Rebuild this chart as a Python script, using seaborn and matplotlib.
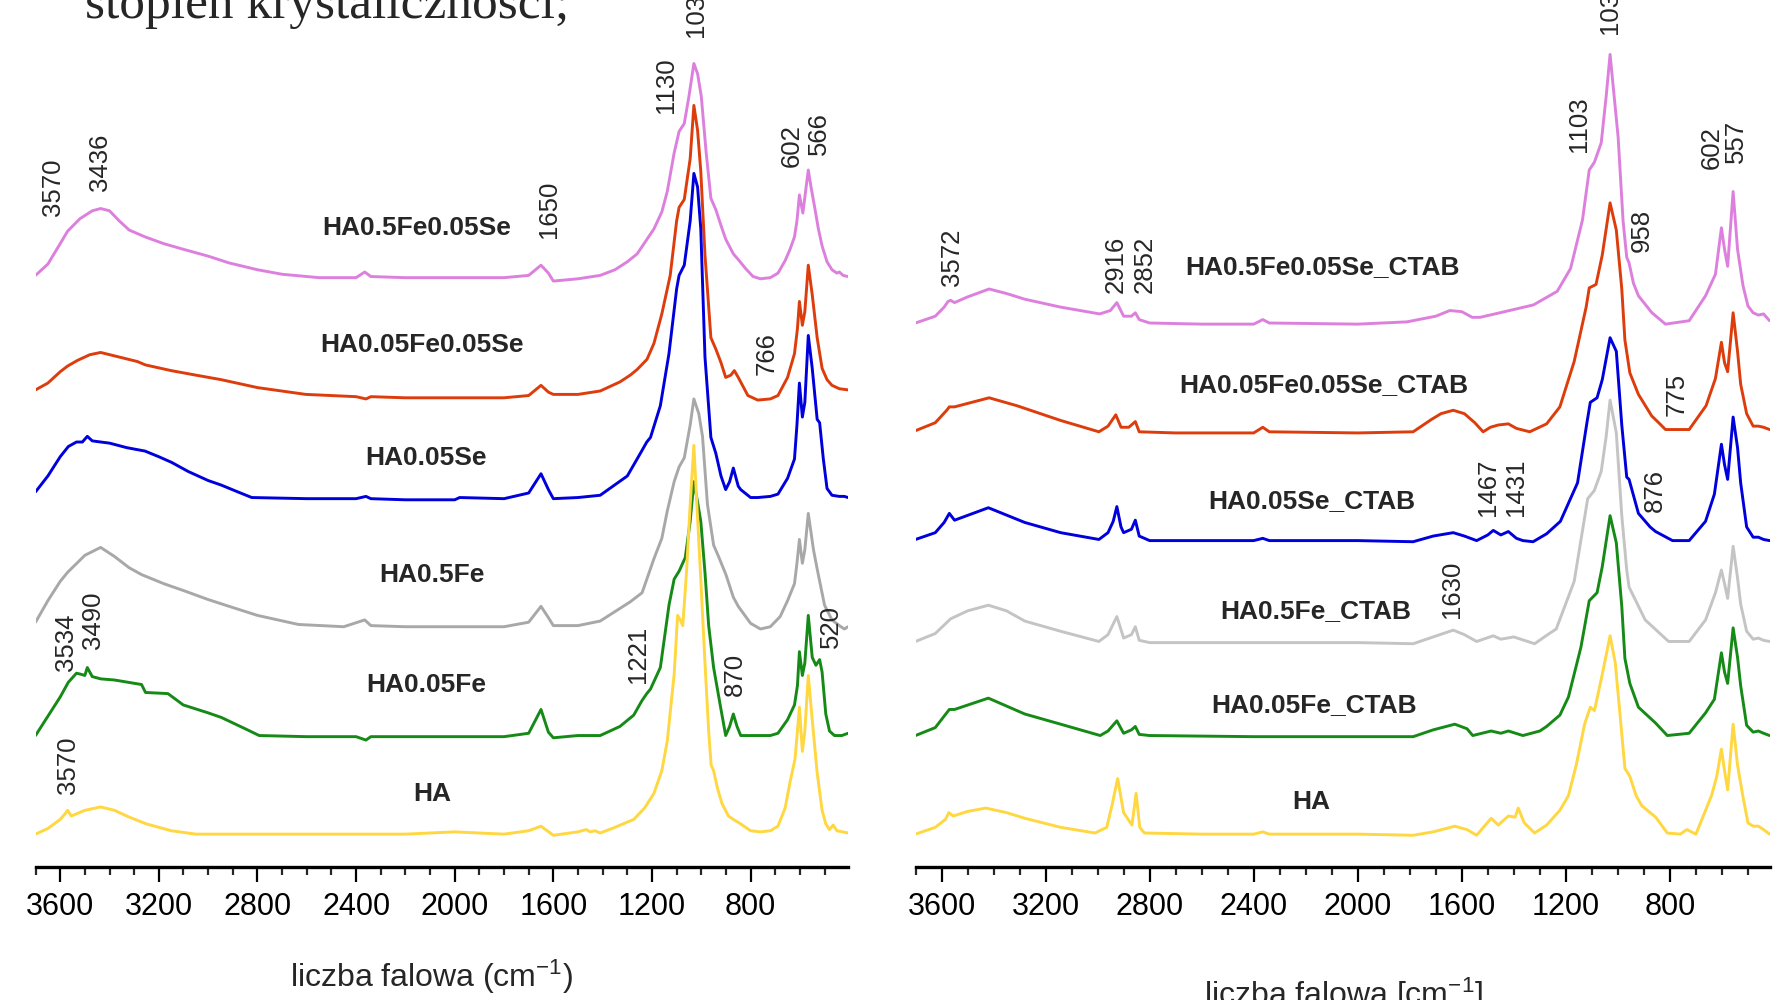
import matplotlib
matplotlib.use("Agg")
import pandas as pd
import matplotlib.pyplot as plt
from matplotlib.ticker import FixedLocator
import seaborn as sns

# ---------------- data: left panel (HA doped with Fe / Se) ----------------
# wavenumber [cm-1] and absorbance (a.u., stacked offset included)
wn_ha05fe005se = [3700, 3650, 3600, 3570, 3520, 3470, 3436, 3400, 3360, 3320, 3256, 3180, 3100, 3000, 2915, 2800,
                  2700, 2550, 2400, 2365, 2340, 2200, 2000, 1800, 1700, 1650, 1620, 1600, 1500, 1410, 1350, 1300,
                  1260, 1192, 1160, 1138, 1110, 1090, 1069, 1050, 1030, 1015, 1000, 980, 961, 941, 920, 901, 870,
                  850, 820, 790, 760, 720, 689, 660, 640, 622, 612, 602, 588, 566, 555, 540, 525, 510, 490, 470,
                  450, 440, 425, 405]
ab_ha05fe005se = [522, 532, 550, 561, 572, 579, 581, 579, 570, 562, 556, 550, 545, 539, 533, 527,
                  523, 520, 520, 525, 521, 520, 520, 520, 522, 531, 524, 517, 519, 522, 527, 534,
                  541, 563, 578, 596, 630, 649, 656, 680, 709, 700, 680, 630, 590, 580, 566, 554, 541,
                  536, 528, 521, 519, 520, 524, 535, 545, 556, 570, 593, 577, 615, 600, 582, 563, 548, 534, 527,
                  524, 525, 522, 521]

wn_ha005fe005se = [3700, 3650, 3600, 3570, 3530, 3480, 3436, 3380, 3287, 3254, 3150, 3050, 2947, 2800, 2604, 2400,
                   2360, 2340, 2200, 2000, 1800, 1700, 1650, 1620, 1600, 1500, 1410, 1330, 1288, 1260, 1220, 1192,
                   1160, 1126, 1100, 1090, 1069, 1045, 1030, 1015, 1002, 985, 961, 941, 920, 901, 880, 866, 850,
                   811, 771, 720, 689, 650, 622, 610, 602, 590, 580, 566, 550, 530, 510, 490, 470, 440, 405]
ab_ha005fe005se = [421, 427, 437, 442, 447, 452, 454, 451, 446, 443, 438, 434, 430, 423, 417, 415,
                   413, 415, 414, 414, 414, 416, 425, 419, 417, 417, 420, 428, 434, 439, 448, 462,
                   488, 522, 570, 582, 589, 625, 672, 650, 614, 540, 467, 457, 445, 432, 434, 438, 432,
                   416, 412, 413, 416, 432, 453, 475, 499, 478, 490, 531, 505, 467, 440, 430, 425, 422, 421]

wn_ha005se = [3700, 3650, 3600, 3567, 3534, 3510, 3490, 3470, 3436, 3400, 3330, 3256, 3200, 3148, 3081, 3000,
              2947, 2880, 2823, 2600, 2400, 2360, 2340, 2200, 2000, 1980, 1800, 1700, 1650, 1620, 1600, 1500,
              1410, 1300, 1247, 1221, 1206, 1166, 1131, 1100, 1090, 1069, 1045, 1030, 1015, 1002, 985, 961,
              941, 920, 901, 885, 870, 850, 840, 800, 771, 720, 689, 650, 622, 612, 602, 590, 580, 566, 550,
              530, 520, 505, 490, 470, 440, 420, 405]
ab_ha005se = [331, 345, 362, 371, 375, 375, 380, 376, 375, 374, 370, 367, 362, 357, 349, 341,
              337, 331, 326, 325, 325, 327, 325, 324, 324, 326, 325, 330, 347, 333, 325, 326,
              328, 345, 365, 375, 379, 407, 453, 510, 522, 531, 570, 612, 600, 563, 450, 379,
              365, 345, 333, 340, 352, 336, 333, 326, 326, 327, 329, 343, 360, 390, 427, 397, 410, 469, 440,
              395, 392, 360, 334, 328, 327, 327, 326]

wn_ha05fe = [3700, 3650, 3600, 3570, 3500, 3436, 3380, 3320, 3270, 3180, 3101, 3000, 2915, 2800, 2634, 2450,
             2365, 2340, 2200, 2000, 1800, 1700, 1650, 1620, 1600, 1500, 1410, 1288, 1240, 1192, 1160, 1138,
             1110, 1090, 1069, 1045, 1030, 1010, 995, 975, 950, 930, 900, 870, 850, 800, 760, 720, 680, 650,
             622, 612, 602, 590, 580, 566, 545, 530, 500, 470, 440, 420, 405]
ab_ha05fe = [216, 235, 252, 260, 275, 282, 274, 264, 258, 250, 244, 236, 230, 222, 214, 212,
             218, 213, 212, 212, 212, 216, 230, 220, 213, 213, 217, 234, 242, 272, 290, 314,
             340, 353, 361, 390, 413, 400, 380, 320, 284, 274, 258, 238, 230, 215, 210, 212, 221, 235,
             250, 268, 289, 268, 280, 312, 280, 263, 231, 218, 213, 210, 212]

wn_ha005fe = [3700, 3650, 3600, 3567, 3534, 3515, 3500, 3490, 3470, 3436, 3380, 3270, 3254, 3163, 3101, 3000,
              2947, 2850, 2793, 2600, 2400, 2360, 2340, 2200, 2000, 1800, 1700, 1650, 1620, 1600, 1500, 1410,
              1330, 1274, 1240, 1221, 1206, 1166, 1131, 1110, 1090, 1065, 1045, 1030, 1015, 1002, 985, 970,
              950, 920, 901, 885, 870, 855, 840, 800, 720, 689, 650, 622, 610, 602, 590, 580, 566, 550, 535,
              520, 510, 495, 480, 460, 430, 405]
ab_ha005fe = [116, 133, 150, 163, 171, 170, 169, 176, 168, 166, 165, 161, 154, 153, 143, 136,
              132, 122, 116, 115, 115, 112, 115, 115, 115, 115, 118, 139, 119, 114, 116, 116,
              124, 134, 147, 153, 157, 176, 231, 254, 261, 273, 305, 340, 322, 305, 260, 213,
              176, 139, 116, 124, 135, 124, 116, 116, 116, 118, 130, 143, 160, 190, 169, 180, 222, 185, 178,
              183, 172, 135, 120, 116, 116, 118]

wn_ha_l = [3700, 3650, 3600, 3580, 3570, 3555, 3500, 3436, 3380, 3320, 3250, 3150, 3050, 2800, 2400, 2200,
           2000, 1800, 1700, 1650, 1600, 1500, 1467, 1450, 1431, 1410, 1350, 1274, 1230, 1192, 1160, 1138,
           1110, 1096, 1085, 1075, 1060, 1045, 1030, 1018, 1002, 985, 970, 960, 950, 935, 916, 890, 870,
           840, 800, 760, 720, 689, 660, 640, 632, 620, 612, 602, 590, 580, 566, 550, 530, 510, 495, 480,
           465, 450, 405]
ab_ha_l = [29, 34, 42, 47, 50, 45, 50, 53, 50, 44, 38, 32, 29, 29, 29, 29,
           31, 29, 32, 36, 28, 31, 33, 31, 32, 30, 35, 42, 52, 65, 85, 111,
           170, 222, 218, 213, 260, 320, 372, 320, 254, 180, 120, 90, 85, 70, 56, 45, 42,
           38, 32, 31, 32, 36, 52, 75, 83, 95, 115, 141, 102, 120, 169, 130, 83, 50, 38, 33,
           37, 32, 30]

# ---------------- data: right panel (CTAB samples) ----------------
wn_ha05fe005se_ctab = [3700, 3624, 3590, 3575, 3565, 3550, 3500, 3417, 3350, 3280, 3142, 2992, 2951, 2926, 2900,
                       2870, 2855, 2840, 2800, 2600, 2400, 2365, 2340, 2000, 1811, 1700, 1646, 1600, 1560, 1530,
                       1454, 1324, 1233, 1182, 1136, 1110, 1090, 1064, 1045, 1030, 1010, 999, 980, 966, 957, 940,
                       921, 869, 817, 726, 663, 625, 602, 590, 578, 557, 540, 519, 500, 480, 460, 440, 417]
ab_ha05fe005se_ctab = [480, 486, 494, 499, 500, 498, 503, 510, 506, 501, 494, 488, 491, 498, 486,
                       486, 489, 483, 480, 479, 479, 483, 480, 479, 481, 486, 491, 490, 485, 485,
                       489, 496, 508, 528, 571, 615, 622, 639, 680, 717, 670, 644, 570, 538, 533, 515,
                       504, 489, 479, 482, 504, 523, 564, 545, 530, 596, 545, 513, 495, 489, 487, 488, 482]

wn_ha005fe005se_ctab = [3700, 3624, 3580, 3570, 3550, 3417, 3310, 3142, 2995, 2960, 2930, 2910, 2880, 2855, 2840,
                        2700, 2400, 2365, 2340, 2000, 1787, 1716, 1680, 1633, 1590, 1550, 1518, 1490, 1460, 1421,
                        1390, 1339, 1274, 1223, 1168, 1122, 1110, 1084, 1060, 1030, 1006, 985, 973, 954, 921, 870,
                        843, 817, 726, 661, 625, 602, 590, 578, 557, 540, 528, 505, 480, 460, 440, 417]
ab_ha005fe005se_ctab = [385, 392, 403, 406, 406, 414, 407, 394, 384, 389, 399, 388, 388, 393, 384,
                        383, 383, 388, 384, 383, 384, 395, 400, 403, 400, 392, 384, 388, 390, 391,
                        387, 384, 391, 406, 446, 494, 511, 514, 540, 586, 562, 510, 465, 436, 417, 398,
                        392, 386, 386, 407, 431, 463, 445, 437, 489, 455, 426, 400, 389, 389, 388, 386]

wn_ha005se_ctab = [3700, 3624, 3590, 3570, 3550, 3420, 3280, 3142, 2995, 2960, 2940, 2926, 2910, 2900, 2870,
                   2855, 2840, 2800, 2600, 2400, 2365, 2340, 2000, 1787, 1710, 1633, 1590, 1543, 1500, 1479,
                   1450, 1421, 1390, 1365, 1326, 1274, 1221, 1155, 1119, 1106, 1080, 1060, 1030, 1006, 985,
                   966, 957, 921, 876, 855, 790, 726, 663, 629, 602, 590, 578, 557, 540, 528, 505, 480, 460,
                   440, 417]
ab_ha005se_ctab = [289, 295, 304, 312, 306, 317, 304, 295, 289, 295, 305, 318, 300, 295, 298,
                   306, 292, 288, 288, 288, 290, 288, 288, 287, 292, 295, 292, 288, 293, 297,
                   293, 296, 290, 288, 287, 294, 305, 339, 392, 410, 414, 430, 467, 455, 390,
                   344, 342, 312, 300, 296, 288, 288, 305, 329, 373, 355, 342, 397, 370, 339, 300, 291, 291,
                   289, 288]

wn_ha05fe_ctab = [3700, 3624, 3565, 3500, 3420, 3350, 3280, 3142, 2995, 2960, 2926, 2900, 2870, 2855, 2840,
                  2800, 2400, 2000, 1787, 1710, 1633, 1590, 1543, 1479, 1450, 1400, 1320, 1270, 1237, 1168,
                  1116, 1091, 1064, 1045, 1030, 1006, 985, 966, 957, 895, 805, 726, 663, 625, 602, 590, 578,
                  557, 540, 528, 505, 480, 460, 440, 417]
ab_ha05fe_ctab = [199, 206, 219, 226, 231, 226, 217, 208, 199, 205, 221, 202, 205, 212, 200,
                  198, 198, 198, 197, 203, 209, 205, 199, 204, 201, 203, 197, 205, 210, 252,
                  325, 332, 349, 380, 412, 383, 310, 262, 247, 218, 199, 199, 218, 242, 262, 250, 237,
                  283, 255, 232, 208, 201, 202, 200, 199]

wn_ha005fe_ctab = [3700, 3624, 3570, 3550, 3420, 3280, 3142, 2990, 2960, 2926, 2900, 2870, 2855, 2840, 2800,
                   2400, 2000, 1787, 1710, 1627, 1580, 1558, 1487, 1450, 1421, 1365, 1300, 1274, 1223, 1190,
                   1142, 1110, 1080, 1060, 1030, 1006, 985, 973, 954, 921, 855, 810, 726, 663, 629, 602, 590,
                   578, 557, 540, 528, 505, 480, 460, 440, 417]
ab_ha005fe_ctab = [116, 123, 139, 139, 149, 135, 126, 116, 120, 129, 118, 121, 124, 117, 116,
                   115, 115, 115, 121, 126, 122, 116, 120, 118, 120, 116, 120, 124, 134, 150,
                   194, 235, 242, 265, 310, 286, 230, 184, 162, 141, 127, 116, 118, 136, 148, 189, 172,
                   162, 211, 185, 160, 125, 119, 120, 118, 116]

wn_ha_r = [3700, 3624, 3585, 3572, 3555, 3500, 3430, 3350, 3280, 3142, 3010, 2965, 2945, 2923, 2900, 2868,
           2852, 2838, 2820, 2600, 2400, 2365, 2340, 2000, 1787, 1710, 1627, 1580, 1543, 1487, 1460, 1421,
           1395, 1383, 1360, 1320, 1274, 1223, 1190, 1160, 1128, 1106, 1090, 1060, 1030, 1010, 990, 973,
           954, 930, 908, 855, 810, 760, 735, 700, 640, 620, 602, 590, 578, 557, 540, 520, 500, 480, 460,
           440, 417]
ab_ha_r = [29, 35, 42, 48, 45, 49, 52, 48, 43, 35, 30, 35, 54, 78, 48, 37,
           65, 35, 30, 29, 29, 31, 29, 29, 28, 31, 36, 33, 28, 43, 37, 45,
           44, 52, 39, 30, 37, 50, 63, 90, 126, 141, 138, 170, 204, 180, 130, 87,
           80, 63, 54, 44, 30, 29, 33, 29, 63, 80, 104, 85, 68, 126, 90, 63, 39, 36, 36,
           33, 29]

# sample names and colours (top to bottom)
names_left = ["HA0.5Fe0.05Se", "HA0.05Fe0.05Se", "HA0.05Se", "HA0.5Fe", "HA0.05Fe", "HA"]
names_right = ["HA0.5Fe0.05Se_CTAB", "HA0.05Fe0.05Se_CTAB", "HA0.05Se_CTAB", "HA0.5Fe_CTAB",
               "HA0.05Fe_CTAB", "HA"]
colors_left = ["#dd80dd", "#dd3d0c", "#0000dd", "#a8a8a8", "#168a16", "#ffd740"]
colors_right = ["#dd80dd", "#dd3d0c", "#0000dd", "#c4c4c4", "#168a16", "#ffd740"]

spectra_left = [(wn_ha05fe005se, ab_ha05fe005se), (wn_ha005fe005se, ab_ha005fe005se),
                (wn_ha005se, ab_ha005se), (wn_ha05fe, ab_ha05fe), (wn_ha005fe, ab_ha005fe),
                (wn_ha_l, ab_ha_l)]
spectra_right = [(wn_ha05fe005se_ctab, ab_ha05fe005se_ctab), (wn_ha005fe005se_ctab, ab_ha005fe005se_ctab),
                 (wn_ha005se_ctab, ab_ha005se_ctab), (wn_ha05fe_ctab, ab_ha05fe_ctab),
                 (wn_ha005fe_ctab, ab_ha005fe_ctab), (wn_ha_r, ab_ha_r)]

# label anchor points (wavenumber, height) for sample names
name_pos_left = [(2156, 564), (2133, 461), (2115, 361), (2092, 258), (2115, 161), (2092, 64)]
name_pos_right = [(2136, 529), (2132, 425), (2175, 323), (2162, 226), (2166, 143), (2180, 57)]

# band labels: text, wavenumber, height of text centre
peaks_left = [("3570", 3628, 600), ("3436", 3439, 622), ("1650", 1618, 580), ("1130", 1145, 690),
              ("1030", 1021, 758), ("602", 634, 637), ("566", 524, 647), ("766", 736, 453),
              ("3534", 3577, 198), ("3490", 3467, 218), ("1221", 1255, 188), ("870", 864, 170),
              ("520", 474, 212), ("3570", 3568, 90)]
peaks_right = [("3572", 3561, 538), ("2916", 2929, 532), ("2852", 2820, 532), ("1103", 1151, 655),
               ("1030", 1029, 760), ("958", 907, 562), ("602", 641, 635), ("557", 546, 640),
               ("775", 776, 417), ("1467", 1500, 335), ("1431", 1391, 335), ("876", 859, 332),
               ("1630", 1639, 245)]

major_ticks = [3600, 3200, 2800, 2400, 2000, 1600, 1200, 800]
minor_ticks = [w for w in range(3700, 499, -100) if w not in major_ticks]

sns.set_style("white")
plt.rcParams['font.family'] = ['Liberation Sans', 'DejaVu Sans']
plt.rcParams['mathtext.default'] = 'regular'

fig = plt.figure(figsize=(17.77, 10), dpi=100)
ax_l = fig.add_axes([0.0200, 0.133, 0.4572, 0.867])
ax_r = fig.add_axes([0.5152, 0.133, 0.4806, 0.867])


def draw_panel(ax, spectra, colors, names, name_pos, peaks, xmin):
    for (wn, ab), c in zip(spectra, colors):
        df = pd.DataFrame({"wn": wn, "ab": ab})
        sns.lineplot(data=df, x="wn", y="ab", ax=ax, color=c, linewidth=2.1,
                     estimator=None, sort=False, legend=False)
    for name, (x, y) in zip(names, name_pos):
        ax.text(x, y, name, ha="center", va="center", fontsize=19, fontweight="bold")
    for txt, x, y in peaks:
        ax.text(x, y, txt, rotation=90, ha="center", va="center", fontsize=18.5)

    ax.set_xlim(3700, xmin)
    ax.set_ylim(0, 765)
    ax.set_xlabel("")
    ax.set_ylabel("")
    ax.set_yticks([])
    for s in ["left", "top", "right"]:
        ax.spines[s].set_visible(False)
    ax.spines["bottom"].set_linewidth(2.4)
    ax.spines["bottom"].set_color("black")
    ax.xaxis.set_major_locator(FixedLocator(major_ticks))
    ax.xaxis.set_minor_locator(FixedLocator(minor_ticks))
    ax.set_xticklabels([str(t) for t in major_ticks])
    ax.tick_params(axis="x", which="major", direction="out", length=11, width=1.6,
                   labelsize=22, pad=7, bottom=True, colors="black")
    ax.tick_params(axis="x", which="minor", direction="out", length=5.5, width=1.6, bottom=True)
    ax.patch.set_alpha(0)


draw_panel(ax_l, spectra_left, colors_left, names_left, name_pos_left, peaks_left, 405)
draw_panel(ax_r, spectra_right, colors_right, names_right, name_pos_right, peaks_right, 417)

fig.text(0.243, 0.023, "liczba falowa (cm$^{-1}$)", ha="center", va="center", fontsize=23)
fig.text(0.756, 0.005, "liczba falowa [cm$^{-1}$]", ha="center", va="center", fontsize=23)
fig.text(0.048, 0.982, "stopień krystaliczności;", ha="left", va="baseline", fontsize=37,
         family=["Liberation Serif", "DejaVu Serif"])

fig.savefig("out.png", dpi=100)
